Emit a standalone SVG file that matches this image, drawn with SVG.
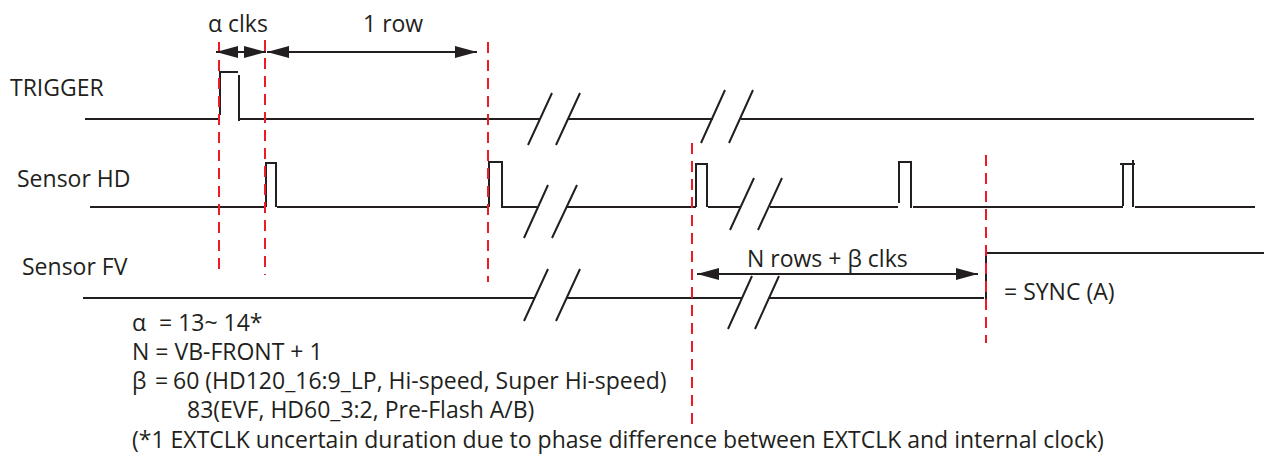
<svg xmlns="http://www.w3.org/2000/svg" width="1264" height="460" viewBox="0 0 1264 460">
<style>
.sig{fill:none;stroke:#231f20;stroke-width:2;stroke-linecap:butt}
.brk{fill:none;stroke:#231f20;stroke-width:2}
.guide{fill:none;stroke:#ed1c24;stroke-width:2;stroke-dasharray:11 7}
.dim{fill:none;stroke:#231f20;stroke-width:2;marker-start:url(#ah);marker-end:url(#ah)}
text{font-family:"Open Sans","Liberation Sans",sans-serif;font-size:23px;fill:#231f20}
</style>
<defs>
<marker id="ah" viewBox="0 0 22 12" refX="22" refY="6" markerWidth="22" markerHeight="12" markerUnits="userSpaceOnUse" orient="auto-start-reverse">
<path d="M0,0 L22,6 L0,12 z" fill="#231f20"/>
</marker>
</defs>
<rect width="1264" height="460" fill="#ffffff"/>

<g id="trigger">
<text x="10" y="96">TRIGGER</text>
<path class="sig" d="M85,119 H220 M220,115 V72 H238 M239,75 V121 M240,119 H540 M568,119 H713 M741,119 H1254"/>
<path class="brk" d="M528,145 L552,93 M556,145 L580,93 M701,143 L725,90 M729,143 L753,90"/>
</g>

<g id="sensor-hd">
<text x="17" y="187">Sensor HD</text>
<path class="sig" d="M90,207 H264 M266,207 V163 H276 V207 M277,207 H488 M489,207 V162 H502 V208 M503,207 H537 M567,207 H696 M696,207 V164 H707 V207 M708,207 H741 M770,207 H898 M899,203 V162 H911 V208 M913,207 H1123 M1123,206 V164 M1120,164 H1135 M1133,160 V207 M1135,207 H1255"/>
<path class="brk" d="M524,238 L548,185 M552,238 L577,185 M730,230 L754,178 M758,230 L782,178"/>
</g>

<g id="sensor-fv">
<text x="22" y="275">Sensor FV</text>
<path class="sig" d="M83,298 H535 M566,298 H742 M769,298 H984 M986,300 V253 H1264"/>
<path class="brk" d="M524,321 L548,269 M556,321 L580,269 M728,329 L752,276 M755,329 L779,276"/>
<text x="1004" y="300">= SYNC (A)</text>
</g>

<g id="guides">
<line class="guide" x1="219" y1="42" x2="219" y2="275"/>
<line class="guide" x1="265" y1="40" x2="265" y2="275"/>
<line class="guide" x1="488" y1="42" x2="488" y2="282"/>
<line class="guide" x1="692" y1="143" x2="692" y2="425"/>
<line class="guide" x1="986" y1="155" x2="986" y2="343"/>
</g>

<g id="connectors">
<line class="dim" x1="216" y1="52" x2="266" y2="52"/>
<line class="dim" x1="267" y1="52" x2="477" y2="52"/>
<line class="dim" x1="697" y1="274" x2="978" y2="274"/>
</g>

<g id="labels">
<text x="208" y="32">α clks</text>
<text x="363" y="32">1 row</text>
<text x="747" y="267">N rows + β clks</text>
</g>

<g id="notes">
<text x="132" y="331">α<tspan x="159">= 13~ 14*</tspan></text>
<text x="132" y="360">N = VB-FRONT + 1</text>
<text x="132" y="389">β<tspan x="155">=</tspan><tspan x="173">60 (HD120_16:9_LP, Hi-speed, Super Hi-speed)</tspan></text>
<text x="187" y="418">83(EVF, HD60_3:2, Pre-Flash A/B)</text>
<text x="132" y="448">(*1 EXTCLK uncertain duration due to phase difference between EXTCLK and internal clock)</text>
</g>
</svg>
